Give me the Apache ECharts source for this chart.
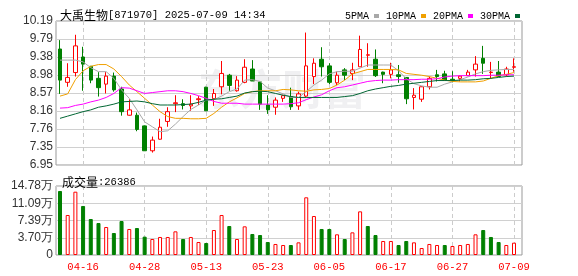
<!DOCTYPE html>
<html><head><meta charset="utf-8">
<script src="https://cdn.jsdelivr.net/npm/echarts@6/dist/echarts.min.js"></script>
<style>html,body{margin:0;padding:0;background:#fff}#c{width:578px;height:276px}</style>
</head><body><div id="c"></div>
<script>
const dates = ['04-11','04-14','04-15','04-16','04-17','04-18','04-21','04-22','04-23','04-24','04-25','04-28','04-29','04-30','05-06','05-07','05-08','05-09','05-12','05-13','05-14','05-15','05-16','05-19','05-20','05-21','05-22','05-23','05-26','05-27','05-28','05-29','05-30','06-03','06-04','06-05','06-06','06-09','06-10','06-11','06-12','06-13','06-16','06-17','06-18','06-19','06-20','06-23','06-24','06-25','06-26','06-27','06-30','07-01','07-02','07-03','07-04','07-07','07-08','07-09'];
const opens = [9.56,8.81,9.03,9.38,9.17,8.90,8.77,8.95,8.66,8.07, 8.07,7.83,7.27,7.53,7.93,8.33,8.33,8.28,8.42,8.70, 8.44,8.71,8.97,8.62,8.81,9.11,8.82,8.30,8.25,8.45, 8.49,8.28,8.50,8.94,9.33,9.18,8.80,9.09,9.01,9.16, 9.42,9.33,9.04,8.99,8.98,8.92,8.47,8.43,8.71,8.98, 9.00,8.88,8.90,8.96,9.09,9.35,9.03,9.04,8.98,9.15];
const closes = [8.86,8.92,9.63,9.22,8.86,8.69,8.95,8.64,8.15,8.19, 7.75,7.27,7.51,7.80,8.15,8.35,8.29,8.32,8.44,8.17, 8.56,9.01,8.74,8.86,9.15,8.84,8.32,8.19,8.41,8.51, 8.26,8.55,9.18,9.24,9.16,8.81,8.97,8.97,9.09,9.55, 9.43,8.96,8.99,9.09,8.94,8.44,8.52,8.71,8.90,8.94, 8.86,8.86,8.95,9.04,9.22,9.24,9.04,8.94,9.11,9.16];
const lows = [8.55,8.71,8.94,8.62,8.79,8.49,8.56,8.60,8.06,8.06, 7.71,7.27,7.23,7.52,7.81,8.14,8.20,8.17,8.30,8.17, 8.28,8.54,8.62,8.60,8.79,8.84,8.19,8.10,8.08,8.37, 8.19,8.19,8.48,8.77,8.94,8.77,8.75,8.86,8.86,9.16, 9.16,8.93,8.79,8.90,8.80,8.32,8.20,8.37,8.65,8.83, 8.85,8.81,8.83,8.95,8.94,9.00,8.90,8.93,8.94,9.05];
const highs = [9.76,9.24,9.88,9.61,9.18,9.04,9.04,9.03,8.71,8.43, 8.13,7.84,7.59,7.99,8.25,8.52,8.43,8.52,8.50,8.71, 8.66,9.29,9.00,8.95,9.33,9.31,8.84,8.52,8.47,8.53, 8.69,8.60,9.93,9.35,9.60,9.24,9.05,9.13,9.25,9.86, 9.69,9.55,9.05,9.25,9.20,8.93,8.68,8.72,8.94,9.09, 9.07,9.06,8.97,9.09,9.40,9.63,9.27,9.29,9.16,9.35];
const ma5 = [9.31,9.31,9.31,9.27,9.14,9.05,9.05,8.90,8.64,8.45, 8.19,7.92,7.81,7.70,7.72,7.87,8.04,8.20,8.30,8.41, 8.42,8.50,8.60,8.66,8.86,8.87,8.83,8.68,8.62,8.55, 8.47,8.47,8.60,8.75,8.86,9.00,9.05,9.06,9.06,9.13, 9.20,9.20,9.20,9.20,9.07,8.89,8.78,8.73,8.70,8.70, 8.77,8.82,8.87,8.93,9.00,9.05,9.08,9.09,9.10,9.10];
const ma10 = [8.50,8.55,8.87,9.07,9.17,9.21,9.21,9.11,8.94,8.75, 8.60,8.45,8.30,8.15,8.04,8.00,8.00,7.99,7.99,8.00, 8.11,8.25,8.37,8.46,8.56,8.60,8.62,8.62,8.62,8.65, 8.64,8.62,8.61,8.64,8.65,8.67,8.75,8.86,9.00,9.05, 9.10,9.10,9.10,9.10,9.09,9.01,8.99,8.97,8.94,8.90, 8.86,8.83,8.82,8.82,8.82,8.84,8.90,8.96,8.99,9.03];
const ma20 = [8.23,8.24,8.29,8.32,8.37,8.41,8.47,8.56,8.69,8.68, 8.62,8.56,8.58,8.60,8.62,8.62,8.60,8.56,8.51,8.45, 8.38,8.34,8.34,8.34,8.32,8.32,8.32,8.32,8.32,8.32, 8.33,8.35,8.42,8.48,8.53,8.62,8.69,8.71,8.75,8.79, 8.83,8.85,8.86,8.86,8.87,8.87,8.87,8.88,8.88,8.89, 8.93,8.95,8.96,8.96,8.96,8.96,8.97,8.97,8.98,8.98];
const ma30 = [8.00,8.05,8.10,8.15,8.19,8.25,8.28,8.32,8.37,8.38, 8.39,8.37,8.33,8.30,8.30,8.30,8.31,8.32,8.36,8.41, 8.43,8.44,8.47,8.50,8.57,8.60,8.61,8.60,8.56,8.52, 8.49,8.47,8.47,8.47,8.47,8.47,8.47,8.49,8.51,8.56, 8.62,8.66,8.69,8.72,8.74,8.77,8.79,8.81,8.83,8.85, 8.85,8.85,8.86,8.86,8.87,8.89,8.90,8.92,8.94,8.95];
const vols = [137100,85700,135600,105000,77100,68500,60000,47100,72800,55700, 57800,39300,34300,38600,38600,50700,34300,38600,27800,25700, 53500,85700,62100,34300,61400,45000,42800,27800,23600,21400, 21400,27100,123600,83500,55700,55700,44300,34300,48500,93500, 62100,42800,30000,30000,21400,30000,27100,15000,23600,21400, 21400,19300,21400,23600,44300,53500,38600,27800,21400,26386];
const volUp = [0,1,1,0,0,0,1,0,0,1, 0,0,1,1,1,1,0,1,1,0, 1,1,0,1,1,0,0,0,1,1, 0,1,1,1,0,0,1,0,1,1, 0,0,1,1,0,0,1,1,1,1, 0,1,1,1,1,0,0,0,1,1];
const priceTicks = ['6.95','7.35','7.76','8.16','8.57','8.98','9.38','9.79','10.19'];
const volTicks = ['0','3.70万','7.39万','11.09万','14.78万'];
const maNames = ['5PMA','10PMA','20PMA','30PMA'];
const maColors = ['#a8a8a8','#f0a000','#ff00ff','#006633'];

const UP = '#ff0000', DOWN = '#008000';
const mono = "'Liberation Mono', monospace";
const cjk = "'Noto Sans CJK SC', sans-serif";
const isLabel = (i) => i % 8 === 3;
const kData = dates.map((d, i) => [opens[i], closes[i], lows[i], highs[i]]);
const volData = vols.map((v, i) => ({
  value: v,
  itemStyle: volUp[i] ? {color: '#fff', borderColor: UP, borderWidth: 1} : {color: DOWN, borderColor: DOWN, borderWidth: 1}
}));
const mas = [ma5, ma10, ma20, ma30];
const vSplit = {show: true, interval: (i) => isLabel(i), lineStyle: {color: '#cccccc', type: [4, 3], width: 1}};
const richText = {
  c: {fontFamily: cjk, fontSize: 12, fontWeight: 'normal', color: '#000'},
  a: {fontFamily: mono, fontSize: 10.5, fontWeight: 'normal', color: '#000'}
};

const chart = echarts.init(document.getElementById('c'), null, {renderer: 'canvas'});
chart.setOption({
  animation: false,
  title: [
    {text: '{c|大禹生物}{a|[871970] 2025-07-09 14:34}', left: 55, top: 4,
     textStyle: {fontWeight: 'normal', rich: richText}},
    {text: '{c|成交量}{a|:26386}', left: 57, top: 171,
     textStyle: {fontWeight: 'normal', rich: richText}}
  ],
  legend: {
    left: 340, top: 6, align: 'right', icon: 'rect', itemWidth: 5, itemHeight: 4, itemGap: 7,
    selectedMode: false, data: maNames,
    textStyle: {fontFamily: mono, fontSize: 10, color: '#000', padding: 0}
  },
  graphic: [{
    type: 'text', left: 198, top: 68, z: -10, silent: true,
    style: {text: '东方财富', fontSize: 42, fontWeight: 'bold', fontFamily: cjk, fill: 'rgba(0,0,40,0.06)'}
  }],
  grid: [
    {left: 56, top: 21, width: 466, height: 144, show: true, borderColor: '#999', borderWidth: 1, backgroundColor: 'transparent'},
    {left: 60, top: 21, width: 454, height: 144},
    {left: 56, top: 186, width: 466, height: 69, show: true, borderColor: '#999', borderWidth: 1, backgroundColor: 'transparent'},
    {left: 60, top: 186, width: 454, height: 69}
  ],
  xAxis: [
    {gridIndex: 0, type: 'value', show: false, min: 0, max: 1},
    {gridIndex: 1, type: 'category', data: dates, boundaryGap: false, axisLine: {show: false}, axisTick: {show: false}, axisLabel: {show: false}, splitLine: vSplit},
    {gridIndex: 2, type: 'value', show: false, min: 0, max: 1},
    {gridIndex: 3, type: 'category', data: dates, boundaryGap: false, axisLine: {show: false}, axisTick: {show: false},
     axisLabel: {interval: (i) => isLabel(i), color: UP, fontFamily: mono, fontSize: 10.5, margin: 7}, splitLine: vSplit}
  ],
  yAxis: [
    {gridIndex: 0, type: 'value', min: 0, max: 8, interval: 1, axisLine: {show: false}, axisTick: {show: false},
     axisLabel: {formatter: (v) => priceTicks[v], fontFamily: "'Liberation Sans', Arial", fontSize: 12, color: '#333', margin: 3},
     splitLine: {lineStyle: {color: '#d0d0d0'}}},
    {gridIndex: 1, type: 'value', min: 6.95, max: 10.19, show: false},
    {gridIndex: 2, type: 'value', min: 0, max: 4, interval: 1, axisLine: {show: false}, axisTick: {show: false},
     axisLabel: {formatter: (v) => volTicks[v], fontFamily: "'Liberation Sans', Arial", fontSize: 12, color: '#333', margin: 3},
     splitLine: {lineStyle: {color: '#d0d0d0'}}},
    {gridIndex: 3, type: 'value', min: 0, max: 147800, show: false}
  ],
  series: [
    {type: 'candlestick', xAxisIndex: 1, yAxisIndex: 1, data: kData, barWidth: 4, clip: false, z: 2,
     itemStyle: {color: '#fff', color0: DOWN, borderColor: UP, borderColor0: DOWN, borderWidth: 1}},
    ...maNames.map((n, k) => ({
      type: 'line', name: n, xAxisIndex: 1, yAxisIndex: 1, data: mas[k], symbol: 'none', z: 3,
      color: maColors[k], lineStyle: {width: 1, color: maColors[k]}, itemStyle: {color: maColors[k]}
    })),
    {type: 'bar', xAxisIndex: 3, yAxisIndex: 3, data: volData, barWidth: 4, clip: false}
  ]
});
</script></body></html>
